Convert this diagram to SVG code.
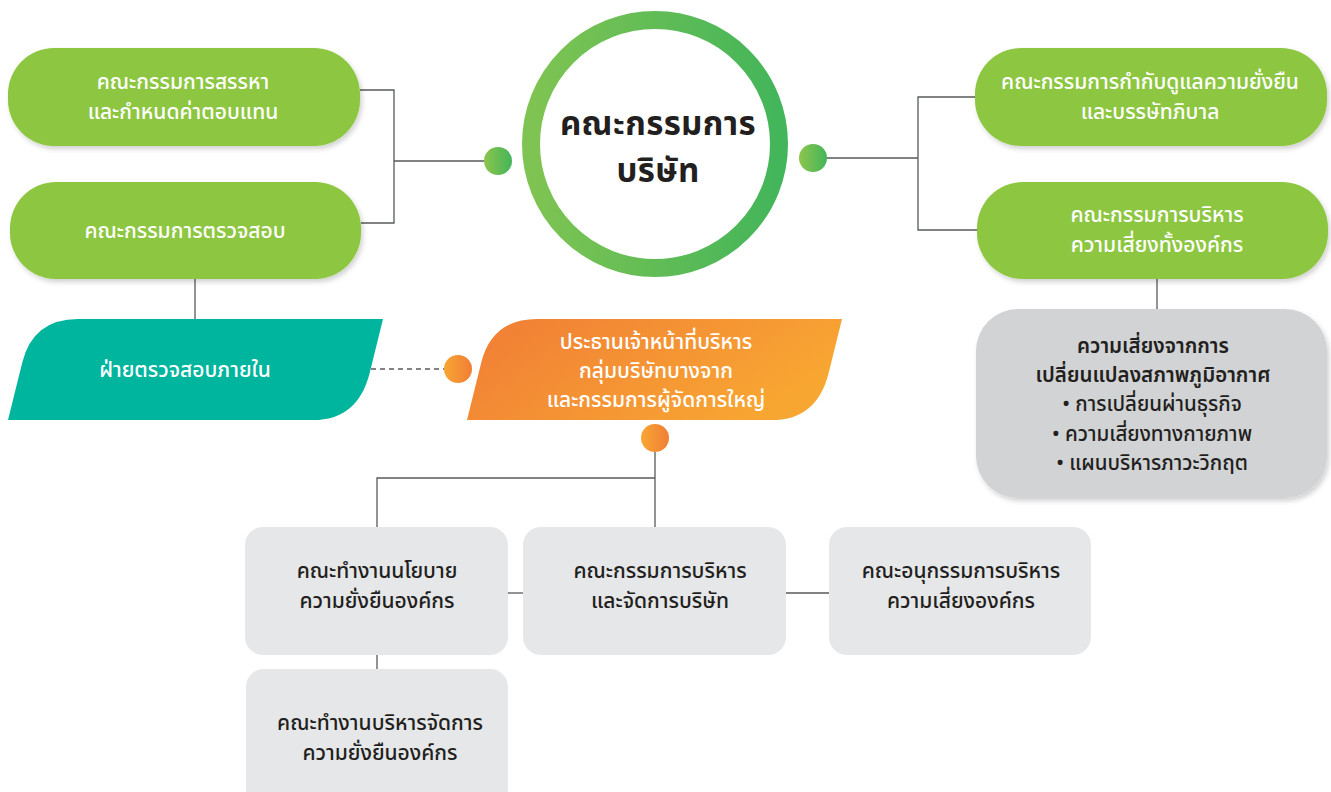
<svg xmlns="http://www.w3.org/2000/svg" width="1331" height="792" viewBox="0 0 1331 792">
<defs>
<linearGradient id="ring" x1="0" y1="0" x2="1" y2="0"><stop offset="0" stop-color="#7fc452"/><stop offset="1" stop-color="#43b55a"/></linearGradient>
<linearGradient id="gdot" x1="0" y1="0" x2="1" y2="0"><stop offset="0" stop-color="#8dc54c"/><stop offset="1" stop-color="#43b55a"/></linearGradient>
<linearGradient id="odot" x1="0" y1="0" x2="1" y2="0"><stop offset="0" stop-color="#f8a632"/><stop offset="1" stop-color="#f07e36"/></linearGradient>
<linearGradient id="orange" x1="0" y1="0" x2="1" y2="0.4"><stop offset="0" stop-color="#f07c36"/><stop offset="1" stop-color="#f8a632"/></linearGradient>
<filter id="sh" x="-10%" y="-10%" width="125%" height="130%"><feDropShadow dx="2" dy="3" stdDeviation="2.5" flood-color="#000" flood-opacity="0.18"/></filter>
</defs>
<style>
.t{font-family:"Noto Sans Thai","Noto Sans","DejaVu Sans",sans-serif;text-anchor:middle}
.w{fill:#ffffff;font-size:21px;font-weight:500}
.d{fill:#231f20;font-size:21px;font-weight:500}
.b{fill:#231f20;font-size:20.5px;font-weight:600}
.c{fill:#231f20;font-size:20.5px;font-weight:500}
.ttl{fill:#231f20;font-size:33px;font-weight:700;letter-spacing:0.4px}
.pill{fill:#8dc63f}
.gray{fill:#e6e7e8}
.ln{fill:none;stroke:#58595b;stroke-width:1.3}
</style>
<g id="connectors">
<polyline class="ln" points="360,90 394,90 394,223 361,223"/>
<line class="ln" x1="394" y1="161" x2="486" y2="161"/>
<line class="ln" x1="826" y1="158" x2="918" y2="158"/>
<polyline class="ln" points="975,97 918,97 918,230 977,230"/>
<line class="ln" x1="195" y1="279" x2="195" y2="319"/>
<line class="ln" x1="1157" y1="279" x2="1157" y2="309"/>
<line class="ln" x1="371" y1="369" x2="444" y2="369" stroke-dasharray="5,4"/>
<polyline class="ln" points="655,452 655,527"/>
<polyline class="ln" points="655,478 377,478 377,527"/>
<line class="ln" x1="508" y1="593" x2="523" y2="593"/>
<line class="ln" x1="786" y1="593" x2="829" y2="593"/>
<line class="ln" x1="377" y1="655" x2="377" y2="669"/>
</g>
<g id="board">
<circle cx="655" cy="144" r="124" fill="#fff" stroke="url(#ring)" stroke-width="18"/>
<text class="t ttl" x="658" y="135">คณะกรรมการ</text>
<text class="t ttl" x="658" y="182">บริษัท</text>
</g>
<g id="dot-left"><circle cx="498" cy="161" r="14" fill="url(#gdot)"/></g>
<g id="dot-right"><circle cx="813" cy="158" r="14" fill="url(#gdot)"/></g>
<g id="nomination">
<rect class="pill" x="8" y="48" width="352" height="98" rx="46" filter="url(#sh)"/>
<text class="t w" x="183" y="89">คณะกรรมการสรรหา</text>
<text class="t w" x="183" y="119">และกำหนดค่าตอบแทน</text>
</g>
<g id="audit">
<rect class="pill" x="10" y="182" width="351" height="97" rx="46" filter="url(#sh)"/>
<text class="t w" x="185" y="238">คณะกรรมการตรวจสอบ</text>
</g>
<g id="sustain">
<rect class="pill" x="975" y="48" width="352" height="98" rx="46" filter="url(#sh)"/>
<text class="t w" x="1150" y="89">คณะกรรมการกำกับดูแลความยั่งยืน</text>
<text class="t w" x="1150" y="119">และบรรษัทภิบาล</text>
</g>
<g id="risk">
<rect class="pill" x="977" y="182" width="351" height="97" rx="46" filter="url(#sh)"/>
<text class="t w" x="1157" y="222">คณะกรรมการบริหาร</text>
<text class="t w" x="1157" y="252">ความเสี่ยงทั้งองค์กร</text>
</g>
<g id="climate">
<rect x="976" y="309" width="351" height="189" rx="42" fill="#d1d3d4" filter="url(#sh)"/>
<text class="t b" x="1153" y="353">ความเสี่ยงจากการ</text>
<text class="t b" x="1153" y="382">เปลี่ยนแปลงสภาพภูมิอากาศ</text>
<text class="t c" x="1152" y="411">• การเปลี่ยนผ่านธุรกิจ</text>
<text class="t c" x="1152" y="441">• ความเสี่ยงทางกายภาพ</text>
<text class="t c" x="1152" y="470">• แผนบริหารภาวะวิกฤต</text>
</g>
<g id="internal-audit">
<path d="M8,420 L22.2,362.7 Q33,319 78,319 L383,319 L369.8,372.4 Q358,420 313,420 Z" fill="#00b59d"/>
<text class="t w" x="185" y="377">ฝ่ายตรวจสอบภายใน</text>
</g>
<g id="ceo">
<path d="M467,420 L481.2,362.7 Q492,319 537,319 L842,319 L828.8,372.4 Q817,420 772,420 Z" fill="url(#orange)"/>
<text class="t w" x="656" y="349">ประธานเจ้าหน้าที่บริหาร</text>
<text class="t w" x="656" y="378">กลุ่มบริษัทบางจาก</text>
<text class="t w" x="656" y="407">และกรรมการผู้จัดการใหญ่</text>
</g>
<g id="dot-ceo-left"><circle cx="458" cy="369" r="14" fill="url(#odot)"/></g>
<g id="dot-ceo-bottom"><circle cx="655" cy="438" r="14" fill="url(#odot)"/></g>
<g id="policy">
<rect class="gray" x="245" y="527" width="263" height="128" rx="18"/>
<text class="t d" x="377" y="578">คณะทำงานนโยบาย</text>
<text class="t d" x="377" y="608">ความยั่งยืนองค์กร</text>
</g>
<g id="mgmt">
<rect class="gray" x="523" y="527" width="263" height="128" rx="18"/>
<text class="t d" x="660" y="578">คณะกรรมการบริหาร</text>
<text class="t d" x="660" y="608">และจัดการบริษัท</text>
</g>
<g id="subrisk">
<rect class="gray" x="829" y="527" width="262" height="128" rx="18"/>
<text class="t d" x="961" y="578">คณะอนุกรรมการบริหาร</text>
<text class="t d" x="961" y="608">ความเสี่ยงองค์กร</text>
</g>
<g id="working">
<rect class="gray" x="246" y="669" width="262" height="140" rx="18"/>
<text class="t d" x="380" y="730">คณะทำงานบริหารจัดการ</text>
<text class="t d" x="380" y="760">ความยั่งยืนองค์กร</text>
</g>
</svg>
